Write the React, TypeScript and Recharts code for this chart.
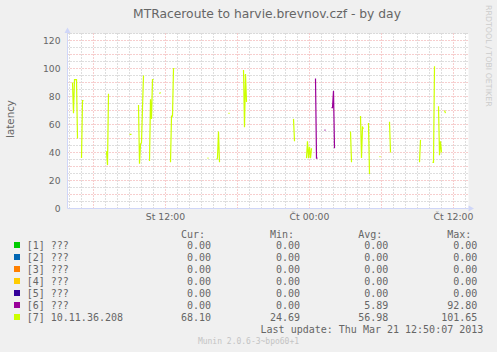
import { LineChart, Line, XAxis, YAxis, CartesianGrid, ReferenceLine } from "recharts";

// minutes since Wed (St) 00:00, one sample per 5 minutes; null = gap
const hop7: [number, number | null][] = [
  [255, 90], [260, 68], [265, 92], [270, 92], [275, 92], [280, 50], [285, null],
  [300, 36], [305, 77], [310, 77], [315, null],
  [425, 41], [430, 31], [435, 82], [440, null],
  [540, 53], [545, 53], [550, 53], [555, null],
  [585, 74], [590, 32], [595, 46], [600, 47], [605, 72], [610, 95], [615, null],
  [640, 34], [645, 78], [650, 64], [655, 92], [660, 92], [665, null],
  [690, 82], [695, 83], [700, null],
  [745, 33], [750, 66], [755, 66], [760, 100], [765, 100], [770, null],
  [930, 36], [935, 36], [940, null],
  [975, 35], [980, 36], [985, 55], [990, 33], [995, null],
  [1035, 68], [1040, 68], [1045, null],
  [1110, 99], [1115, 58], [1120, 96], [1125, 76], [1130, null],
  [1360, 64], [1365, 48], [1370, null],
  [1425, 36], [1430, 48], [1435, 36], [1440, 44], [1445, 36], [1450, 43], [1455, null],
  [1645, 55], [1650, 33], [1655, null],
  [1695, 66], [1700, 36], [1705, 58], [1710, 57], [1715, null],
  [1735, 61], [1740, 24.69], [1745, null],
  [1790, 37], [1795, 37], [1800, null],
  [1840, 62], [1845, 40], [1850, null],
  [1990, 33], [1995, 49], [2000, null],
  [2055, 33], [2060, 33], [2065, 101.65], [2070, null],
  [2085, 73], [2090, 38], [2095, 48], [2100, 40], [2105, null],
  [2115, 70], [2120, 68.1],
];

const hop6Own: [number, number | null][] = [
  [1465, null], [1470, 92.8], [1475, 36], [1480, 36], [1485, null],
  [1515, 56], [1520, 56], [1525, null],
  [1550, 72], [1555, 72], [1560, 84], [1565, 43], [1570, null],
];

const hopNames = ["[1] ???", "[2] ???", "[3] ???", "[4] ???", "[5] ???", "[6] ???", "[7] 10.11.36.208"];
const hopColors = ["#00CC00", "#0066B3", "#FF8000", "#FFCC00", "#330099", "#990099", "#CCFF00"];
const curVals = ["0.00", "0.00", "0.00", "0.00", "0.00", "0.00", "68.10"];
const minVals = ["0.00", "0.00", "0.00", "0.00", "0.00", "0.00", "24.69"];
const avgVals = ["0.00", "0.00", "0.00", "0.00", "0.00", "5.89", "56.98"];
const maxVals = ["0.00", "0.00", "0.00", "0.00", "0.00", "92.80", "101.65"];

const xLabels: Record<number, string> = { 720: "St 12:00", 1440: "Čt 00:00", 2160: "Čt 12:00" };
const xMajor = [360, 720, 1080, 1440, 1800, 2160];
const xMinor = Array.from({ length: 34 }, (_, i) => 240 + i * 60).filter((v) => !xMajor.includes(v));
const yMajor = [10, 20, 30, 40, 50, 60, 70, 80, 90, 100, 110, 120];
const yMinor = [5, 15, 25, 35, 45, 55, 65, 75, 85, 95, 105, 115, 125];
const yTicks = [0, ...yMajor];

const toRows = (pts: [number, number | null][]) => pts.map(([t, v]) => ({ t, v }));
// hops 1-5 answer 0 whenever hop 7 was measured
const zeroRows = toRows(hop7.map(([t, v]) => [t, v === null ? null : 0]));
const hop6Rows = toRows(
  [...hop7.map(([t, v]) => [t, v === null ? null : 0] as [number, number | null]), ...hop6Own].sort(
    (a, b) => a[0] - b[0]
  )
);
const hop7Rows = toRows(hop7);

const DOMAIN: [number, number] = [230, 2235];
const GREY = "#BDBDBD";
const PINK = "#EE9C9C";
const AXIS = "#CFD6F8";
const FONT = "DejaVu Sans, sans-serif";
const MONO = "DejaVu Sans Mono, monospace";

export default function App() {
  const rowY = (i: number) => 249 + i * 12;
  return (
    <div style={{ position: "fixed", left: 0, top: 0, width: 497, height: 352, background: "#F0F0F0" }}>
      <LineChart width={497} height={352} margin={{ top: 33.5, right: 28.5, left: 0, bottom: 123.5 }}>
        <CartesianGrid fill="#FFFFFF" horizontal={false} vertical={false} />
        {xMinor.map((v) => (
          <ReferenceLine key={`xm${v}`} x={v} stroke={GREY} strokeDasharray="1 2" />
        ))}
        {yMinor.map((v) => (
          <ReferenceLine key={`ym${v}`} y={v} stroke={GREY} strokeDasharray="1 2" />
        ))}
        {xMajor.map((v) => (
          <ReferenceLine key={`xM${v}`} x={v} stroke={PINK} strokeDasharray="1 2" />
        ))}
        {yMajor.map((v) => (
          <ReferenceLine key={`yM${v}`} y={v} stroke={PINK} strokeDasharray="1 2" />
        ))}
        <XAxis
          type="number"
          dataKey="t"
          domain={DOMAIN}
          ticks={[720, 1440, 2160]}
          tickFormatter={(v: number) => xLabels[v] ?? ""}
          axisLine={{ stroke: AXIS }}
          tickLine={false}
          tickSize={0}
          tickMargin={5}
          height={20}
          tick={{ fontSize: 9.3, fill: "#666", fontFamily: FONT }}
        />
        <YAxis
          domain={[0, 125]}
          ticks={yTicks}
          width={67.5}
          axisLine={{ stroke: AXIS }}
          tickLine={false}
          tickSize={0}
          tickMargin={7}
          tick={{ fontSize: 9.2, fill: "#666", fontFamily: FONT }}
        />
        {[0, 1, 2, 3, 4].map((i) => (
          <Line
            key={i}
            data={zeroRows}
            dataKey="v"
            stroke={hopColors[i]}
            strokeWidth={1}
            dot={false}
            type="linear"
            isAnimationActive={false}
          />
        ))}
        <Line data={hop6Rows} dataKey="v" stroke={hopColors[5]} strokeWidth={1.2} dot={false} type="linear" isAnimationActive={false} />
        <Line data={hop7Rows} dataKey="v" stroke={hopColors[6]} strokeWidth={1.2} dot={false} type="linear" isAnimationActive={false} />
      </LineChart>
      <svg width={497} height={352} style={{ position: "absolute", left: 0, top: 0, pointerEvents: "none" }}>
        <polygon points="64.5,33 67.5,27.5 70.5,33" fill={AXIS} />
        <polygon points="468.5,205.5 474,208.5 468.5,211.5" fill={AXIS} />
        <text x={267} y={17.5} textAnchor="middle" fontFamily={FONT} fontSize={12.3} fill="#666">
          MTRaceroute to harvie.brevnov.czf - by day
        </text>
        <text transform="translate(14,119) rotate(-90)" textAnchor="middle" fontFamily={FONT} fontSize={10.3} fill="#666">
          latency
        </text>
        <text transform="translate(485.5,5) rotate(90)" fontFamily={FONT} fontSize={7.9} fill="#CCC">
          RRDTOOL / TOBI OETIKER
        </text>
        <g fontFamily={MONO} fontSize={10} fill="#666">
          <text x={205} y={237.5} textAnchor="end">Cur:</text>
          <text x={294} y={237.5} textAnchor="end">Min:</text>
          <text x={382.3} y={237.5} textAnchor="end">Avg:</text>
          <text x={471.3} y={237.5} textAnchor="end">Max:</text>
          {hopNames.map((name, i) => (
            <g key={name}>
              <rect x={14} y={rowY(i) - 7} width={6} height={6} fill={hopColors[i]} />
              <text x={26.7} y={rowY(i)}>{name}</text>
              <text x={211} y={rowY(i)} textAnchor="end">{curVals[i]}</text>
              <text x={300} y={rowY(i)} textAnchor="end">{minVals[i]}</text>
              <text x={388.3} y={rowY(i)} textAnchor="end">{avgVals[i]}</text>
              <text x={477.3} y={rowY(i)} textAnchor="end">{maxVals[i]}</text>
            </g>
          ))}
          <text x={483.3} y={333} textAnchor="end">Last update: Thu Mar 21 12:50:07 2013</text>
        </g>
        <text x={248.5} y={344} textAnchor="middle" fontFamily={MONO} fontSize={8} fill="#C4C4C4">
          Munin 2.0.6-3~bpo60+1
        </text>
      </svg>
    </div>
  );
}
